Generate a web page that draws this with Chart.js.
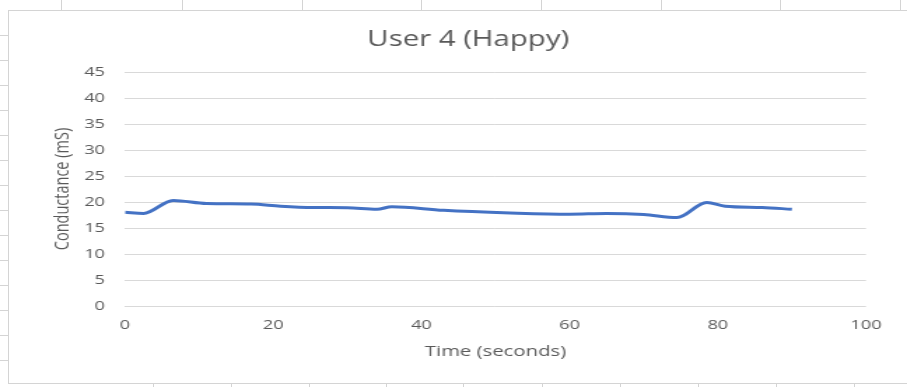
<!DOCTYPE html>
<html>
<head>
<meta charset="utf-8">
<script src="https://cdn.jsdelivr.net/npm/chart.js@4/dist/chart.umd.min.js"></script>
<style>
  html, body { margin: 0; padding: 0; background: #ffffff; }
  #wrap { width: 907px; height: 387px; position: relative; overflow: hidden; }
  #sheet { position: absolute; left: 0; top: 0; }
  /* the chart object is laid out narrower and widened to the frame, as in the workbook view */
  #stretch { position: absolute; left: 0; top: 0; width: 648px; height: 387px;
             transform: scaleX(1.399691); transform-origin: 0 0; }
</style>
</head>
<body>
<div id="wrap">
  <canvas id="sheet" width="907" height="387"></canvas>
  <div id="stretch"><canvas id="c" width="648" height="387"></canvas></div>
</div>
<script>
// Skin conductance trace for user 4 while happy
const timeSeconds = [0, 2.5, 6.5, 11, 17, 21, 25.5, 30, 34, 36, 43, 52, 60, 65, 70, 74.5, 78.5, 81, 86, 90];
const conductance = [18.05, 17.8, 20.3, 19.7, 19.6, 19.2, 18.95, 18.9, 18.6, 19.1, 18.4, 17.9, 17.65, 17.8, 17.6, 17.0, 19.9, 19.2, 18.95, 18.6];

const chartTitle = 'User 4 (Happy)';
const xTitle = 'Time (seconds)';
const yTitle = 'Conductance (mS)';
const xTicks = { min: 0, max: 100, step: 20 };
const yTicks = { min: 0, max: 45, step: 5 };

const points = timeSeconds.map((t, i) => ({ x: t, y: conductance[i] }));

const textGrey = '#595959';
const gridGrey = '#d9d9d9';
const fontFamily = '"Open Sans", "Noto Sans", sans-serif';

// Worksheet behind the chart object: border plus cell-edge marks
(function drawSheet() {
  const cv = document.getElementById('sheet');
  const ctx = cv.getContext('2d');
  ctx.fillStyle = '#ffffff';
  ctx.fillRect(0, 0, cv.width, cv.height);
  ctx.strokeStyle = '#d4d4d4';
  ctx.lineWidth = 1;
  ctx.strokeRect(8.5, 10.5, cv.width + 5, 373);
  ctx.beginPath();
  [61, 182, 302, 421, 541, 661, 780, 900].forEach(x => {
    ctx.moveTo(x + 0.5, 0); ctx.lineTo(x + 0.5, 10);
  });
  for (let y = 35; y < 383; y += 25) {
    ctx.moveTo(0, y + 0.5); ctx.lineTo(8, y + 0.5);
  }
  [153, 231, 309, 386, 463, 542, 620, 698, 776, 854].forEach(x => {
    ctx.moveTo(x + 0.5, 384); ctx.lineTo(x + 0.5, 387);
  });
  ctx.stroke();
})();

new Chart(document.getElementById('c'), {
  type: 'line',
  data: {
    datasets: [{
      data: points,
      borderColor: '#4472c4',
      borderWidth: 3,
      pointRadius: 0,
      tension: 0.4,
      cubicInterpolationMode: 'monotone',
      fill: false
    }]
  },
  options: {
    responsive: false,
    animation: false,
    devicePixelRatio: 1,
    layout: { padding: { left: 21, right: 0, top: 0, bottom: 0 } },
    plugins: {
      legend: { display: false },
      tooltip: { enabled: false },
      title: {
        display: true,
        text: chartTitle,
        color: textGrey,
        font: { family: fontFamily, size: 21, weight: 'normal', lineHeight: 1.2 },
        padding: { top: 27.4, bottom: 19.4 }
      }
    },
    scales: {
      x: {
        type: 'linear',
        min: xTicks.min,
        max: xTicks.max,
        grid: { display: false, drawTicks: false },
        border: { display: false },
        ticks: {
          stepSize: xTicks.step,
          color: textGrey,
          padding: 11,
          maxRotation: 0,
          font: { family: fontFamily, size: 13 }
        },
        title: {
          display: true,
          text: xTitle,
          color: textGrey,
          font: { family: fontFamily, size: 14.5, lineHeight: 1.2 },
          padding: { top: 0, bottom: 26.3 }
        },
        afterFit(scale) { scale.height = 81; }
      },
      y: {
        position: 'left',
        min: yTicks.min,
        max: yTicks.max,
        grid: { color: gridGrey, lineWidth: 1, drawTicks: false },
        border: { display: false },
        ticks: {
          stepSize: yTicks.step,
          color: textGrey,
          padding: 14.3,
          font: { family: fontFamily, size: 13 }
        },
        title: {
          display: true,
          text: yTitle,
          color: textGrey,
          font: { family: fontFamily, size: 14.5, lineHeight: 1.2 },
          padding: { top: 15.3, bottom: 0 }
        },
        afterFit(scale) { scale.width = 68.3; }
      },
      yRight: {
        position: 'right',
        display: true,
        grid: { display: false },
        border: { display: false },
        ticks: { display: false },
        afterFit(scale) { scale.width = 29.3; }
      }
    }
  }
});
</script>
</body>
</html>
